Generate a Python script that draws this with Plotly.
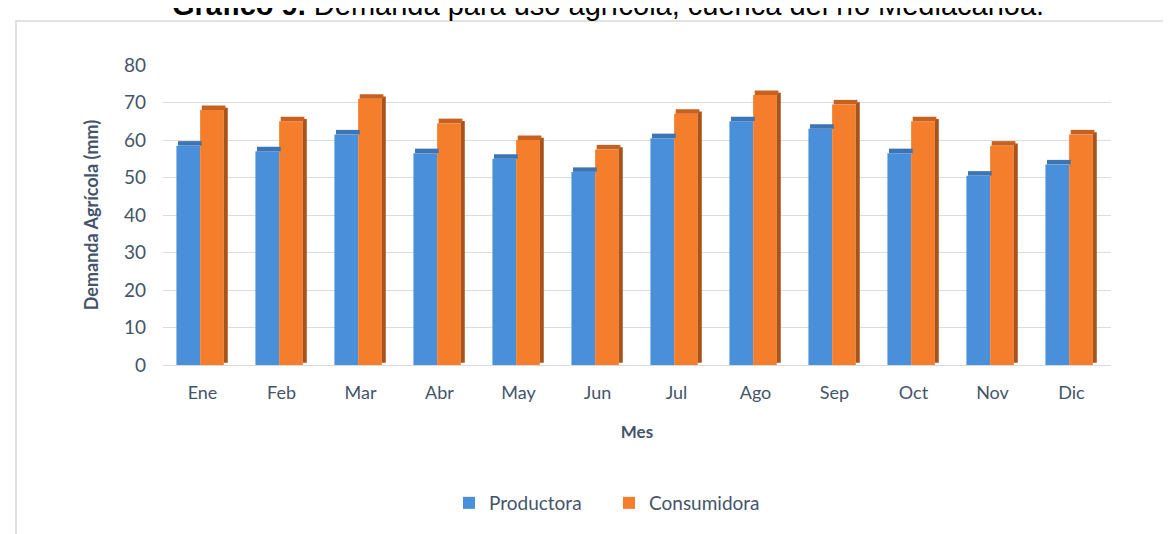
import plotly.graph_objects as go

meses = ["Ene", "Feb", "Mar", "Abr", "May", "Jun", "Jul", "Ago", "Sep", "Oct", "Nov", "Dic"]
productora = [58.5, 57, 61.5, 56.5, 55, 51.5, 60.5, 65, 63, 56.5, 50.5, 53.5]
consumidora = [68, 65, 71, 64.5, 60, 57.5, 67, 72, 69.5, 65, 58.5, 61.5]
y_ticks = [0, 10, 20, 30, 40, 50, 60, 70, 80]

W, H = 1171, 534
L, R, T, B = 155, 68, 57, 177
pw, ph = W - L - R, H - T - B

x = list(range(len(meses)))
cap = 1.2
txt = "#44546A"

fig = go.Figure()
# front faces
fig.add_trace(go.Bar(x=x, y=productora, offset=-0.33, width=0.30, name="Productora",
                     marker=dict(color="#4A8FDA", line=dict(width=0))))
fig.add_trace(go.Bar(x=x, y=consumidora, offset=-0.03, width=0.30, name="Consumidora",
                     marker=dict(color="#F47E2B", line=dict(width=0))))
# side face of orange bars
fig.add_trace(go.Bar(x=x, y=consumidora, base=[cap * 0.5] * len(x), offset=0.27, width=0.05,
                     showlegend=False, marker=dict(color="#A9531C", line=dict(width=0))))
# top faces
fig.add_trace(go.Bar(x=x, y=[cap] * len(x), base=productora, offset=-0.31, width=0.30,
                     showlegend=False, marker=dict(color="#3C74B4", line=dict(width=0))))
fig.add_trace(go.Bar(x=x, y=[cap] * len(x), base=consumidora, offset=-0.01, width=0.30,
                     showlegend=False, marker=dict(color="#C8611F", line=dict(width=0))))

fig.update_layout(
    width=W, height=H,
    margin=dict(l=L, r=R, t=T, b=B, autoexpand=False),
    paper_bgcolor="white", plot_bgcolor="white",
    barmode="overlay",
    font=dict(family="Lato, Carlito, Calibri, sans-serif", color=txt, size=18),
    xaxis=dict(
        range=[-0.5, len(meses) - 0.5],
        tickmode="array", tickvals=x, ticktext=meses,
        showgrid=False, zeroline=False, showline=True, linecolor="#D9D9D9",
        ticks="", ticklabelstandoff=11,
        title=dict(text="<b>Mes</b>", font=dict(size=17, color=txt), standoff=24),
        tickfont=dict(size=18, color=txt),
    ),
    yaxis=dict(
        range=[0, 80], tickmode="array", tickvals=y_ticks,
        showgrid=True, gridcolor="#DCDCDC", gridwidth=1,
        zeroline=False, showline=False, ticks="",
        ticklabelstandoff=16,
        title=dict(text="<b>Demanda Agrícola (mm)</b>", font=dict(size=18, color=txt), standoff=20),
        tickfont=dict(size=19, color=txt),
    ),
    legend=dict(orientation="h", x=(601 - L) / pw, xanchor="center",
                y=(H - B - 495) / ph, yanchor="middle",
                font=dict(size=19, color=txt), itemsizing="constant",
                traceorder="normal", entrywidth=115),
    showlegend=True,
)

# outer frame of the chart
fig.add_shape(type="rect", xref="paper", yref="paper",
              x0=(8 - L) / pw, x1=(W + 20 - L) / pw,
              y0=(H - B - (H + 20)) / ph, y1=(H - B - 13) / ph,
              line=dict(color="#D9D9D9", width=1.5), fillcolor="rgba(0,0,0,0)", layer="below")

# caption (cut by the top edge as in the reference)
fig.add_annotation(xref="paper", yref="paper", x=(600 - L) / pw, y=(H - B + 3) / ph,
                   xanchor="center", yanchor="middle", showarrow=False,
                   text="<b>Gráfico 9.</b> Demanda para uso agrícola, cuenca del río Mediacanoa.",
                   font=dict(family="Liberation Sans, Arial, sans-serif", size=29, color="black"))

fig.write_html("out.html")
